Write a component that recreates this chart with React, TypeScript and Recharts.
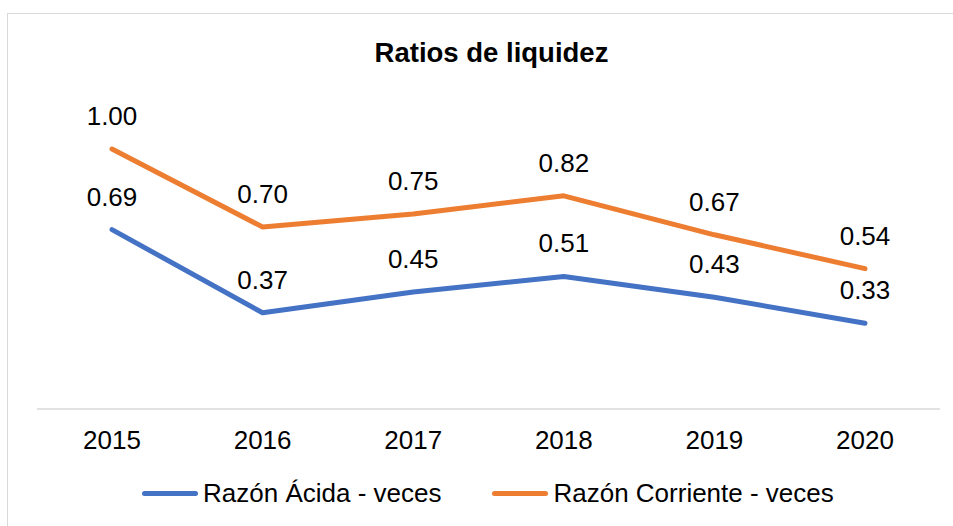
import { LineChart, Line, XAxis, YAxis, Legend, LabelList } from 'recharts';

const years = ['2015', '2016', '2017', '2018', '2019', '2020'];
const razonAcida = [0.69, 0.37, 0.45, 0.51, 0.43, 0.33];
const razonCorriente = [1.0, 0.7, 0.75, 0.82, 0.67, 0.54];
const seriesKeys = ['acida', 'corriente'];

const data = years.map((year, i) => ({
  year,
  acida: razonAcida[i],
  corriente: razonCorriente[i],
}));

const FONT = '"Liberation Sans", Arial, sans-serif';

function LegendContent({ payload }: any) {
  // keep the series order, not the alphabetical one
  const items = [...(payload ?? [])].sort(
    (a: any, b: any) => seriesKeys.indexOf(a.dataKey) - seriesKeys.indexOf(b.dataKey),
  );
  return (
    <div style={{ display: 'flex', alignItems: 'center', paddingLeft: 142, fontFamily: FONT, fontSize: 26, color: '#000' }}>
      {items.map((entry: any, i: number) => (
        <div key={entry.value} style={{ display: 'flex', alignItems: 'center', marginLeft: i === 0 ? 0 : 51 }}>
          <span style={{ display: 'inline-block', width: 56, height: 5, borderRadius: 3, background: entry.color, marginRight: 5 }} />
          <span>{entry.value}</span>
        </div>
      ))}
    </div>
  );
}

export default function App() {
  return (
    <div style={{ position: 'absolute', left: 0, top: 0, width: 953, height: 526, overflow: 'hidden', background: '#fff' }}>
      <div style={{ position: 'absolute', left: 7, top: 13, width: 1000, height: 600, border: '1.5px solid #d9d9d9', boxSizing: 'border-box' }} />
      <div style={{ position: 'absolute', left: 0, top: 38.7, width: 983, textAlign: 'center', fontFamily: FONT, fontWeight: 'bold', fontSize: 27.5, lineHeight: '27.5px', color: '#000' }}>
        Ratios de liquidez
      </div>
      <div style={{ position: 'absolute', left: 0, top: 0 }}>
        <LineChart width={953} height={526} data={data} margin={{ top: 97, right: 13, bottom: 87, left: 37 }}>
          <XAxis
            dataKey="year"
            height={30}
            padding={{ left: 75, right: 75 }}
            axisLine={{ stroke: '#d9d9d9', strokeWidth: 1.5 }}
            tickLine={false}
            tickSize={0}
            tickMargin={22}
            tick={{ fill: '#000', fontSize: 26, fontFamily: FONT }}
          />
          <YAxis hide domain={[0, 1.2]} />
          <Legend
            layout="horizontal"
            verticalAlign="middle"
            align="center"
            wrapperStyle={{ left: 0, top: 478, width: 953 }}
            content={<LegendContent />}
          />
          <Line
            type="linear"
            dataKey="acida"
            name="Razón Ácida - veces"
            stroke="#4472C4"
            strokeWidth={5}
            strokeLinecap="round"
            strokeLinejoin="round"
            dot={false}
            isAnimationActive={false}
          >
            <LabelList
              dataKey="acida"
              position="top"
              offset={24}
              formatter={(v: any) => Number(v).toFixed(2)}
              style={{ fill: '#000', fontSize: 26, fontFamily: FONT }}
            />
          </Line>
          <Line
            type="linear"
            dataKey="corriente"
            name="Razón Corriente - veces"
            stroke="#ED7D31"
            strokeWidth={5}
            strokeLinecap="round"
            strokeLinejoin="round"
            dot={false}
            isAnimationActive={false}
          >
            <LabelList
              dataKey="corriente"
              position="top"
              offset={24}
              formatter={(v: any) => Number(v).toFixed(2)}
              style={{ fill: '#000', fontSize: 26, fontFamily: FONT }}
            />
          </Line>
        </LineChart>
      </div>
    </div>
  );
}
